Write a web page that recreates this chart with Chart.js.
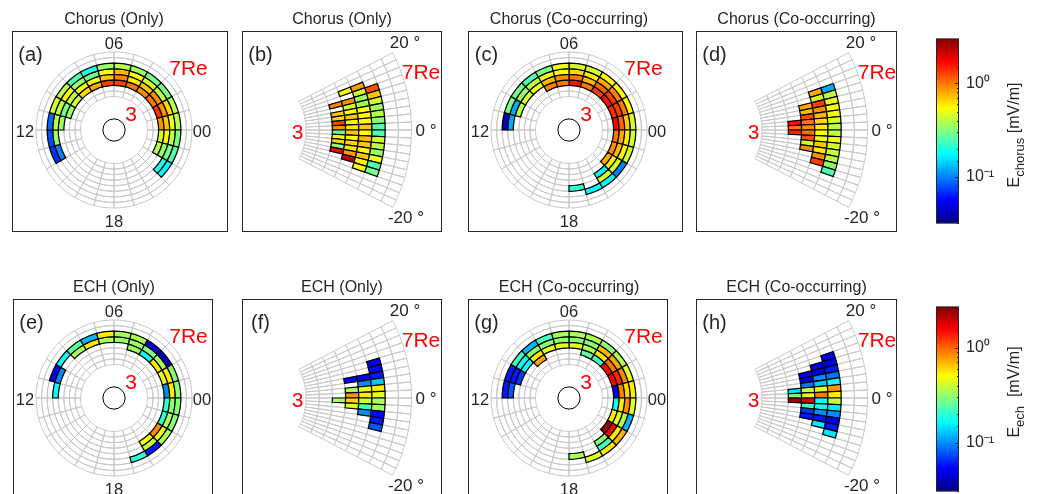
<!DOCTYPE html>
<html>
<head>
<meta charset="utf-8">
<script src="https://cdn.jsdelivr.net/npm/chart.js@4.4.1/dist/chart.umd.min.js"></script>
<style>
    body { margin: 0; width: 1041px; height: 494px; overflow: hidden; position: relative; background: #fff;
           font-family: "Liberation Sans", Arial, Helvetica, sans-serif; color: #262626; }
    .box { position: absolute; border: 1px solid #262626; box-sizing: border-box; }
    canvas { position: absolute; }
    .txt { position: absolute; transform: translate(-50%, -50%); white-space: nowrap; line-height: 1; }
    .red { color: #ff0000; }
    .cbl { position: absolute; transform: translate(-50%, -50%) rotate(-90deg); white-space: nowrap; font-size: 16px; line-height: 1; }
    .cbl sub { font-size: 13px; }
</style>
</head>
<body>
<script>
(function(Chart) {
    const n = null;

    // bins
    const mltStart = [0, 1, 2, 3, 4, 5, 6, 7, 8, 9, 10, 11, 12, 13, 14, 15, 16, 17, 18, 19, 20, 21, 22, 23];
    const latTop = [20, 18, 16, 14, 12, 10, 8, 6, 4, 2, 0, -2, -4, -6, -8, -10, -12, -14, -16, -18];
    const gridRings = [3.0, 3.5, 4.0, 4.5, 5.0, 5.5, 6.0, 6.5];
    const dataRings = [4.0, 4.5, 5.0, 5.5];

    // colour ranges (mV/m)
    const chorusRange = [0.032, 3];
    const echRange = [0.031, 2.7];

    // rows = L 4.0-4.5, 4.5-5.0, 5.0-5.5, 5.5-6.0 ; columns = MLT hour bins 00..23
    const chorusOnlyMlt = [
        [0.9, 1.4, 1.0, 0.9, 1.0, 1.3, 1.3, 0.8, 0.65, 0.45, 0.35, n, n, n, n, n, n, n, n, n, n, n, 0.4, 0.45],
        [0.7, 0.9, 0.9, 0.7, 0.6, 0.95, 0.7, 0.5, 0.5, 0.4, 0.3, 0.35, n, n, n, n, n, n, n, n, n, n, 0.35, 0.55],
        [0.5, 0.65, 0.4, 0.45, 0.55, 0.75, 0.55, 0.3, 0.35, 0.55, 0.4, 0.4, 0.35, 0.1, n, n, n, n, n, n, n, 0.2, 0.3, 0.4],
        [0.4, 0.4, 0.3, 0.3, 0.35, 0.4, 0.35, 0.2, 0.25, 0.4, 0.45, 0.09, 0.08, 0.07, n, n, n, n, n, n, n, 0.17, 0.25, 0.3]
    ];
    const chorusCoMlt = [
        [1.7, 1.4, 1.6, 1.3, 1.0, 1.6, 1.0, 0.95, n, n, n, n, n, n, n, n, n, n, n, n, n, 0.8, 0.9, 1.0],
        [1.1, 1.3, 1.3, 1.1, 0.75, 1.0, 0.9, 0.75, 0.5, 0.45, 0.4, n, n, n, n, n, n, n, n, n, 0.17, 0.6, 0.75, 0.8],
        [0.7, 1.0, 0.95, 0.8, 0.6, 0.65, 0.55, 0.5, 0.4, 0.35, 0.12, 0.12, n, n, n, n, n, n, 0.22, n, 0.45, 0.45, 0.55, 0.6],
        [0.45, 0.55, 0.55, 0.55, 0.45, 0.45, 0.5, 0.3, 0.25, 0.3, 0.3, 0.04, n, n, n, n, n, n, n, 0.17, 0.17, 0.1, 0.45, 0.45]
    ];
    const echOnlyMlt = [
        [n, n, n, n, n, n, n, n, n, n, n, n, n, n, n, n, n, n, n, n, n, n, n, n],
        [0.1, 0.45, 0.55, 0.17, 0.33, n, n, n, n, n, n, n, n, n, n, n, n, n, n, n, 0.5, 0.85, 0.2, 0.2],
        [0.55, 0.55, 0.35, 0.3, 0.33, 0.32, 0.35, 0.55, 0.35, n, 0.1, 0.17, n, n, n, n, n, n, n, n, 0.4, 0.45, 0.35, 0.3],
        [0.3, 0.3, 0.04, 0.045, 0.35, 0.35, 0.55, 0.12, 0.25, 0.17, 0.05, n, n, n, n, n, n, n, n, 0.2, 0.06, 0.35, 0.3, 0.3]
    ];
    const echCoMlt = [
        [0.05, 1.6, 1.5, 0.22, 0.25, n, n, n, 0.75, n, n, n, n, n, n, n, n, n, n, n, n, 2.4, 0.55, 0.17],
        [0.85, 1.3, 0.9, 0.55, 0.35, 0.45, 0.45, 0.45, 0.55, 0.17, 0.07, n, n, n, n, n, n, n, n, n, 0.3, 1.6, 0.45, 0.55],
        [0.6, 0.85, 0.75, 0.7, 0.3, 0.3, 0.3, 0.3, 0.3, 0.17, 0.06, 0.08, n, n, n, n, n, n, 0.35, n, 0.22, 0.55, 0.35, 0.85],
        [0.55, 0.45, 0.35, 0.3, 0.35, 0.35, 0.35, 0.22, 0.12, 0.22, 0.06, 0.06, n, n, n, n, n, n, n, 0.45, 0.55, 0.7, 0.12, 0.45]
    ];

    // rows = L bins as above ; columns = MLAT bins from +20 down to -20 (2 deg)
    const chorusOnlyMlat = [
        [n, n, n, n, 0.95, n, 0.7, 0.65, 1.3, 0.9, 0.28, 0.55, 0.65, 0.33, 1.7, n, n, n, n, n],
        [n, n, 0.55, n, 0.9, 0.45, 0.55, 0.7, 0.55, 0.6, 0.7, 0.55, 0.65, 0.6, 0.85, 2.3, n, n, n, n],
        [n, n, 0.85, 0.45, 0.35, 0.35, 0.55, 0.55, 0.55, 0.7, 0.55, 0.75, 0.7, 0.55, 0.7, 0.55, 0.55, n, n, n],
        [n, n, n, 1.2, 0.7, 0.45, 0.35, 0.4, 0.32, 0.25, 0.25, 0.45, 0.4, 0.35, 0.5, 0.25, 0.3, n, n, n]
    ];
    const chorusCoMlat = [
        [n, n, n, n, n, n, n, n, 1.6, 1.0, 1.5, n, n, n, n, n, n, n, n, n],
        [n, n, n, n, n, 0.8, 0.75, 1.2, 1.0, 0.9, 1.0, 1.2, 0.45, 0.9, n, n, n, n, n, n],
        [n, n, n, 0.8, 0.45, 1.3, 0.9, 0.75, 0.65, 0.6, 0.55, 0.5, 0.7, 0.6, 0.9, 1.3, n, n, n, n],
        [n, n, n, 0.12, 0.4, 0.5, 0.55, 0.5, 0.45, 0.4, 0.4, 0.5, 0.45, 0.42, 0.4, 0.33, 0.25, n, n, n]
    ];
    const echOnlyMlat = [
        [n, n, n, n, n, n, n, n, n, n, 0.35, n, n, n, n, n, n, n, n, n],
        [n, n, n, n, n, n, 0.055, n, 0.35, 0.8, 0.6, 0.45, n, n, n, n, n, n, n, n],
        [n, n, n, n, n, n, 0.05, 0.1, 0.45, 0.55, 0.42, 0.22, 0.1, n, n, n, n, n, n, n],
        [n, n, n, n, 0.05, 0.055, 0.06, 0.13, 0.55, 0.45, 0.35, 0.33, 0.055, 0.06, 0.08, n, n, n, n, n]
    ];
    const echCoMlat = [
        [n, n, n, n, n, n, n, n, 0.15, 0.28, 2.4, n, n, n, n, n, n, n, n, n],
        [n, n, n, n, n, 0.05, 0.05, 0.09, 0.4, 0.45, 1.8, 0.22, 0.07, 0.06, n, n, n, n, n, n],
        [n, n, n, n, 0.05, 0.05, 0.1, 0.13, 0.45, 0.9, 0.17, 0.18, 0.1, 0.06, 0.15, n, n, n, n, n],
        [n, n, n, 0.05, 0.05, 0.06, 0.09, 0.17, 0.8, 0.55, 0.4, 0.15, 0.1, 0.05, 0.06, 0.15, n, n, n, n]
    ];

    const font = '"Liberation Sans", Arial, Helvetica, sans-serif';
    const boxH = 201;
    const mltR = 78;            // L = 7 in pixels
    const latR = 167.5;         // L = 7 in pixels, side view
    const latCut = 62 / 167.5;  // inner edge of the side view grid
    const latHalf = 27.5;       // drawn half opening of the side view

    const panels = [
        {tag: '(a)', title: 'Chorus (Only)', kind: 'mlt', x: 12, y: 31, w: 216, cx: 114, rows: chorusOnlyMlt, range: chorusRange},
        {tag: '(b)', title: 'Chorus (Only)', kind: 'lat', x: 242, y: 31, w: 200, cx: 244, rows: chorusOnlyMlat, range: chorusRange},
        {tag: '(c)', title: 'Chorus (Co-occurring)', kind: 'mlt', x: 468, y: 31, w: 215, cx: 569, rows: chorusCoMlt, range: chorusRange},
        {tag: '(d)', title: 'Chorus (Co-occurring)', kind: 'lat', x: 696, y: 31, w: 201, cx: 700, rows: chorusCoMlat, range: chorusRange},
        {tag: '(e)', title: 'ECH (Only)', kind: 'mlt', x: 13, y: 299, w: 200, cx: 114, rows: echOnlyMlt, range: echRange},
        {tag: '(f)', title: 'ECH (Only)', kind: 'lat', x: 242, y: 299, w: 200, cx: 244, rows: echOnlyMlat, range: echRange},
        {tag: '(g)', title: 'ECH (Co-occurring)', kind: 'mlt', x: 468, y: 299, w: 200, cx: 569, rows: echCoMlt, range: echRange},
        {tag: '(h)', title: 'ECH (Co-occurring)', kind: 'lat', x: 696, y: 299, w: 201, cx: 700, rows: echCoMlat, range: echRange}
    ];

    function jet(t) {
        t = Math.min(1, Math.max(0, t));
        const c = (x) => Math.round(255 * Math.min(1, Math.max(0, 1.5 - Math.abs(x))));
        return `rgb(${c(4 * t - 3)},${c(4 * t - 2)},${c(4 * t - 1)})`;
    }

    function colorOf(v, range) {
        const lo = Math.log10(range[0]);
        const hi = Math.log10(range[1]);
        return jet((Math.log10(v) - lo) / (hi - lo));
    }

    function addText(html, x, y, size, cls) {
        const d = document.createElement('div');
        d.className = 'txt' + (cls ? ' ' + cls : '');
        d.style.left = x + 'px';
        d.style.top = y + 'px';
        d.style.fontSize = size + 'px';
        d.innerHTML = html;
        document.body.appendChild(d);
    }

    function addCanvas(x, y, w, h) {
        const cv = document.createElement('canvas');
        cv.width = w;
        cv.height = h;
        cv.style.left = x + 'px';
        cv.style.top = y + 'px';
        document.body.appendChild(cv);
        return cv;
    }

    // one ring per dataset, outermost first (that is how a doughnut stacks them)
    function ringDatasets(p, grid) {
        const slices = p.kind === 'mlt' ? mltStart : latTop;
        return gridRings.slice().reverse().map(L => {
            const row = p.rows[dataRings.indexOf(L)];
            const vals = slices.map((_, k) => {
                if (!row) return null;
                // mlt: slice k runs clockwise from 06 at the top, i.e. bin (5 - k) mod 24
                return p.kind === 'mlt' ? row[(29 - k) % 24] : row[k];
            });
            return {
                label: 'L ' + L,
                data: slices.map(() => 1),
                backgroundColor: vals.map(v => (grid || v === null) ? 'rgba(0,0,0,0)' : colorOf(v, p.range)),
                borderColor: grid ? '#c8c8c8' : '#000000',
                borderWidth: grid ? 1 : vals.map(v => v === null ? 0 : 1.2)
            };
        });
    }

    const earth = {
        id: 'earth',
        afterDatasetsDraw(chart) {
            const arc = chart.getDatasetMeta(0).data[0];
            const ctx = chart.ctx;
            ctx.save();
            ctx.beginPath();
            ctx.arc(arc.x, arc.y, arc.outerRadius / 7, 0, Math.PI * 2);
            ctx.strokeStyle = '#000';
            ctx.lineWidth = 1;
            ctx.stroke();
            ctx.restore();
        }
    };

    function drawPanel(p) {
        const box = document.createElement('div');
        box.className = 'box';
        box.style.left = p.x + 'px';
        box.style.top = p.y + 'px';
        box.style.width = p.w + 'px';
        box.style.height = boxH + 'px';
        document.body.appendChild(box);

        const cy = p.y + 99;
        let ax, R, cut, rotation, circumference;
        if (p.kind === 'mlt') {
            R = mltR;
            cut = 3 / 7;
            rotation = 0;
            circumference = 360;
            ax = p.cx - p.x;
        } else {
            R = latR;
            cut = latCut;
            rotation = 90 - latHalf;
            circumference = 2 * latHalf;
            const s = latHalf * Math.PI / 180;
            ax = p.cx - p.x + R * (1 + cut * Math.cos(s)) / 2;
        }
        const ay = cy - p.y;
        const padding = {
            left: Math.max(0, 2 * ax - p.w),
            right: Math.max(0, p.w - 2 * ax),
            top: Math.max(0, 2 * ay - boxH),
            bottom: Math.max(0, boxH - 2 * ay)
        };

        [true, false].forEach(grid => {
            const cv = addCanvas(p.x, p.y, p.w, boxH);
            new Chart(cv.getContext('2d'), {
                type: 'doughnut',
                data: {
                    labels: (p.kind === 'mlt' ? mltStart : latTop).map(String),
                    datasets: ringDatasets(p, grid)
                },
                options: {
                    responsive: false,
                    animation: false,
                    events: [],
                    radius: R,
                    cutout: (cut * 100) + '%',
                    rotation: rotation,
                    circumference: circumference,
                    layout: {padding: padding},
                    elements: {arc: {borderJoinStyle: 'miter', borderAlign: 'center'}},
                    plugins: {legend: {display: false}, tooltip: {enabled: false}}
                },
                plugins: (grid && p.kind === 'mlt') ? [earth] : []
            });
        });

        addText(p.tag, p.x + 18.5, p.y + 23, 20);
        if (p.kind === 'mlt') {
            addText(p.title, p.cx, p.y - 12, 16);
            addText('06', p.cx, cy - 87, 16.5);
            addText('12', p.cx - 89, cy + 1, 16.5);
            addText('00', p.cx + 88, cy + 1, 16.5);
            addText('18', p.cx, cy + 91, 16.5);
            addText('7Re', p.cx + 74.5, cy - 63, 21, 'red');
            addText('3', p.cx + 17, cy - 17, 21, 'red');
        } else {
            addText(p.title, p.x + p.w / 2, p.y - 12, 16);
            addText('20 °', p.cx + 161, cy - 88, 17);
            addText('7Re', p.cx + 177, cy - 59, 21, 'red');
            addText('3', p.cx + 53.5, cy + 1, 21, 'red');
            addText('0 °', p.cx + 182, cy, 17);
            addText('-20 °', p.cx + 162, cy + 87, 17);
        }
    }

    const jetFill = {
        id: 'jetFill',
        beforeDatasetsDraw(chart) {
            const {left, right, top, bottom} = chart.chartArea;
            const ctx = chart.ctx;
            const g = ctx.createLinearGradient(0, bottom, 0, top);
            for (let i = 0; i <= 32; i++) g.addColorStop(i / 32, jet(i / 32));
            ctx.save();
            ctx.fillStyle = g;
            ctx.fillRect(left, top, right - left, bottom - top);
            // inward tick marks on the right edge, as in the original colour bar
            const y = chart.scales.y;
            ctx.strokeStyle = '#262626';
            ctx.lineWidth = 1;
            y.ticks.forEach(t => {
                const py = Math.round(y.getPixelForValue(t.value)) + 0.5;
                const e = Math.log10(t.value);
                const len = Math.abs(e - Math.round(e)) < 1e-6 ? 4 : 2;
                ctx.beginPath();
                ctx.moveTo(right - len, py);
                ctx.lineTo(right, py);
                ctx.stroke();
            });
            ctx.strokeRect(left + 0.5, top + 0.5, right - left - 1, bottom - top - 1);
            ctx.restore();
        }
    };

    function tickLabel(v) {
        const e = Math.log10(v);
        if (Math.abs(e - Math.round(e)) > 1e-6) return '';
        const r = Math.round(e);
        if (r === 0) return '10\u2070';
        if (r === -1) return '10\u207B\u00B9';
        return '';
    }

    function drawColorbar(top, range, label, labelY) {
        const cv = addCanvas(926, top - 8, 73, 218);
        new Chart(cv.getContext('2d'), {
            type: 'bar',
            data: {labels: [''], datasets: []},
            options: {
                responsive: false,
                animation: false,
                events: [],
                layout: {padding: {left: 10, right: 0, top: 8, bottom: 10}},
                plugins: {legend: {display: false}, tooltip: {enabled: false}},
                scales: {
                    x: {display: false},
                    y: {
                        type: 'logarithmic',
                        position: 'right',
                        min: range[0],
                        max: range[1],
                        grid: {display: false, drawTicks: false},
                        border: {display: false},
                        afterFit: (scale) => { scale.width = 40; },
                        ticks: {
                            autoSkip: false,
                            padding: 7,
                            color: '#262626',
                            font: {family: font, size: 16},
                            callback: tickLabel
                        }
                    }
                }
            },
            plugins: [jetFill]
        });
        const d = document.createElement('div');
        d.className = 'cbl';
        d.style.left = '1016px';
        d.style.top = labelY + 'px';
        d.innerHTML = label;
        document.body.appendChild(d);
    }

    panels.forEach(drawPanel);
    drawColorbar(30, chorusRange, 'E<sub>chorus</sub> [mV/m]', 135);
    drawColorbar(298, echRange, 'E<sub>ech</sub> &nbsp;[mV/m]', 392);
})(Chart);
</script>
</body>
</html>
